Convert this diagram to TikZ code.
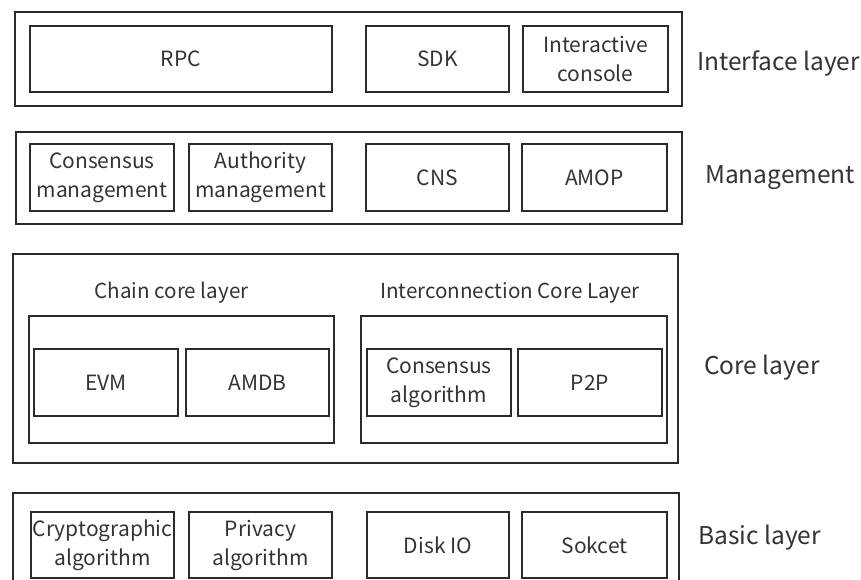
\documentclass[tikz,border=0pt]{standalone}
\usepackage{fontspec}
\setmainfont{Noto Sans CJK SC}
\definecolor{ink}{HTML}{2B2B2B}
\definecolor{txt}{HTML}{333333}
\tikzset{
  frame/.style={draw=ink, line width=2.2pt, rectangle, inner sep=0pt, outer sep=0pt},
  blk/.style={frame, text=txt, font=\fontsize{21}{29}\selectfont, align=center},
  group/.style={frame},
  caption/.style={text=txt, font=\fontsize{20.6}{24}\selectfont, inner sep=0pt},
  layername/.style={text=txt, font=\fontsize{24.5}{28}\selectfont, anchor=west, inner sep=0pt},
}
\begin{document}
\begin{tikzpicture}[x=1pt, y=-1pt]
\useasboundingbox (0,0) rectangle (861,580);
\begin{scope}
\clip (0,0) rectangle (861,580);

% Interface layer
\node[group, minimum width=667pt, minimum height=94pt] (ifc) at (348.5,59) {};
\node[blk, minimum width=302pt, minimum height=66pt] (rpc) at (181,59) {RPC};
\node[blk, minimum width=143pt, minimum height=66pt] (sdk) at (437.5,59) {SDK};
\node[blk, minimum width=145pt, minimum height=66pt] (console) at (595.5,59) {Interactive\\console};
\node[layername] (ifclabel) at (697,63) {Interface layer};

% Management
\node[group, minimum width=666pt, minimum height=92pt] (mgmt) at (349,178) {};
\node[blk, minimum width=144pt, minimum height=67pt] (consmgmt) at (102,177.5) {Consensus\\management};
\node[blk, minimum width=143pt, minimum height=67pt] (authmgmt) at (260.5,177.5) {Authority\\management};
\node[blk, minimum width=143pt, minimum height=67pt] (cns) at (437.5,177.5) {CNS};
\node[blk, minimum width=145pt, minimum height=67pt] (amop) at (594.5,177.5) {AMOP};
\node[layername] (mgmtlabel) at (705,178) {Management};

% Core layer
\node[group, minimum width=665pt, minimum height=209pt] (core) at (345.5,358.5) {};
\node[caption] (chaincap) at (171.5,293) {Chain core layer};
\node[caption] (intercap) at (510,293) {Interconnection Core Layer};
\node[group, minimum width=305pt, minimum height=127pt] (chain) at (181.5,379.5) {};
\node[group, minimum width=306pt, minimum height=127pt] (inter) at (514,379.5) {};
\node[blk, minimum width=144pt, minimum height=67pt] (evm) at (106,382.5) {EVM};
\node[blk, minimum width=143pt, minimum height=67pt] (amdb) at (257.5,382.5) {AMDB};
\node[blk, minimum width=144pt, minimum height=67pt] (consalg) at (439,382.5) {Consensus\\algorithm};
\node[blk, minimum width=144pt, minimum height=67pt] (p2p) at (590,382.5) {P2P};
\node[layername] (corelabel) at (704,368) {Core layer};

% Basic layer (runs past the lower edge)
\node[group, minimum width=666pt, minimum height=120pt] (basic) at (346,553) {};
\node[blk, minimum width=143pt, minimum height=66pt] (crypto) at (102.5,545) {Cryptographic\\algorithm};
\node[blk, minimum width=143pt, minimum height=66pt] (privacy) at (260.5,545) {Privacy\\algorithm};
\node[blk, minimum width=142pt, minimum height=66pt] (diskio) at (438,545) {Disk IO};
\node[blk, minimum width=145pt, minimum height=66pt] (socket) at (594.5,545) {Sokcet};
\node[layername] (basiclabel) at (698,538) {Basic layer};
\end{scope}
\end{tikzpicture}
\end{document}
